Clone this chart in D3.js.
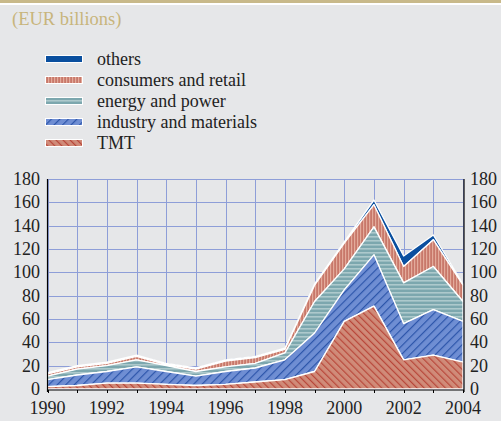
<!DOCTYPE html>
<html>
<head>
<meta charset="utf-8">
<script src="https://cdn.jsdelivr.net/npm/d3@7"></script>
<style>
	body { margin: 0; background: #e6e7e9; }
	svg { display: block; font-family: "Liberation Serif", "DejaVu Serif", serif; }
</style>
</head>
<body>
<svg id="chart" width="501" height="421"></svg>
<script>
var years = [1990, 1991, 1992, 1993, 1994, 1995, 1996, 1997, 1998, 1999, 2000, 2001, 2002, 2003, 2004];
var tmt = [2, 3, 5, 5, 4, 3, 4, 6, 8, 15, 58, 71, 25, 29, 23];
var industry = [6, 9, 10, 14, 11, 8, 11, 12, 17, 33, 27, 44, 31, 39, 35];
var energy = [3, 5, 5, 6, 5, 4, 4, 4, 6, 27, 18, 24, 35, 37, 17];
var consumers = [2, 2, 2, 3, 1, 2, 5, 5, 3, 14, 22, 19, 14, 23, 14];
var others = [1, 1, 1, 1, 1, 1, 1, 1, 1, 1, 1, 4, 9, 4, 1];
var seriesKeys = ["tmt", "industry", "energy", "consumers", "others"];
var legendLabels = ["others", "consumers and retail", "energy and power", "industry and materials", "TMT"];
var legendKeys = ["others", "consumers", "energy", "industry", "tmt"];
var yTicks = [0, 20, 40, 60, 80, 100, 120, 140, 160, 180];
var xLabels = [1990, 1992, 1994, 1996, 1998, 2000, 2002, 2004];

var svg = d3.select("#chart");
var W = 501, H = 421;
var plot = {left: 47.5, right: 463, top: 179, bottom: 389};

// top band
svg.append("rect").attr("x", 0).attr("y", 0).attr("width", W).attr("height", 3).attr("fill", "#c8b98a");
svg.append("rect").attr("x", 0).attr("y", 3).attr("width", W).attr("height", 2).attr("fill", "#ffffff");

svg.append("text").attr("x", 12).attr("y", 25)
	.attr("font-size", 18.5).attr("fill", "#c8b57c")
	.text("(EUR billions)");

// patterns
var defs = svg.append("defs");
function stripes(id, size, bg, fg, angle, width) {
	var p = defs.append("pattern").attr("id", id)
		.attr("patternUnits", "userSpaceOnUse")
		.attr("width", size).attr("height", size)
		.attr("patternTransform", "rotate(" + angle + ")");
	p.append("rect").attr("width", size).attr("height", size).attr("fill", bg);
	p.append("rect").attr("x", 0).attr("y", 0).attr("width", width).attr("height", size).attr("fill", fg);
}
stripes("p-tmt", 5, "#d08b79", "#b8473a", -45, 1.2);
stripes("p-industry", 6, "#6f8ed3", "#2c55aa", 45, 1.2);
stripes("p-energy", 4, "#7ca7ae", "#adc9cc", 90, 1.6);
stripes("p-consumers", 3, "#c8786a", "#e3ab9b", 0, 1.2);

var fills = {
	tmt: "url(#p-tmt)",
	industry: "url(#p-industry)",
	energy: "url(#p-energy)",
	consumers: "url(#p-consumers)",
	others: "#0a4f9f"
};

var x = d3.scaleLinear().domain([1990, 2004]).range([plot.left, plot.right]);
var y = d3.scaleLinear().domain([0, 180]).range([plot.bottom, plot.top]);

// grid
var grid = svg.append("g").attr("stroke", "#8e9ed8").attr("stroke-width", 1);
yTicks.forEach(function (v) {
	grid.append("line").attr("x1", plot.left).attr("x2", plot.right)
		.attr("y1", Math.round(y(v)) + 0.5).attr("y2", Math.round(y(v)) + 0.5);
});
years.forEach(function (v) {
	grid.append("line").attr("y1", plot.top).attr("y2", plot.bottom)
		.attr("x1", Math.round(x(v)) + 0.5).attr("x2", Math.round(x(v)) + 0.5);
});

// stacked areas
var table = years.map(function (yr, i) {
	return {year: yr, tmt: tmt[i], industry: industry[i], energy: energy[i], consumers: consumers[i], others: others[i]};
});
var stack = d3.stack().keys(seriesKeys);
var layers = stack(table);
var area = d3.area()
	.x(function (d) { return x(d.data.year); })
	.y0(function (d) { return y(d[0]); })
	.y1(function (d) { return y(d[1]); });

svg.append("g").selectAll("path")
	.data(layers.slice().reverse())
	.enter().append("path")
	.attr("d", area)
	.attr("fill", function (d) { return fills[d.key]; })
	.attr("stroke", "#ffffff")
	.attr("stroke-width", 1.3)
	.attr("stroke-linejoin", "round");

// axes
var axisG = svg.append("g").attr("font-size", 18).attr("fill", "#222");
axisG.append("line").attr("x1", plot.left).attr("x2", plot.left).attr("y1", plot.top).attr("y2", plot.bottom + 3)
	.attr("stroke", "#000").attr("stroke-width", 1.2);
axisG.append("line").attr("x1", plot.right + 1).attr("x2", plot.right + 1).attr("y1", plot.top).attr("y2", plot.bottom + 3)
	.attr("stroke", "#000").attr("stroke-width", 1.2);
axisG.append("line").attr("x1", plot.left).attr("x2", plot.right + 1).attr("y1", plot.bottom + 1).attr("y2", plot.bottom + 1)
	.attr("stroke", "#000").attr("stroke-width", 1);
years.forEach(function (v) {
	axisG.append("line").attr("x1", Math.round(x(v)) + 0.5).attr("x2", Math.round(x(v)) + 0.5)
		.attr("y1", plot.bottom + 1).attr("y2", plot.bottom + 4)
		.attr("stroke", "#000").attr("stroke-width", 1);
});
yTicks.forEach(function (v) {
	axisG.append("text").attr("x", 40).attr("y", y(v) + 6)
		.attr("text-anchor", "end").text(v);
	axisG.append("text").attr("x", 470).attr("y", y(v) + 6)
		.attr("text-anchor", "start").text(v);
});
xLabels.forEach(function (v) {
	axisG.append("text").attr("x", x(v)).attr("y", 414)
		.attr("text-anchor", "middle").text(v);
});

// legend
var legend = svg.append("g").attr("font-size", 18).attr("fill", "#222");
legendKeys.forEach(function (k, i) {
	var yy = 59 + i * 21;
	legend.append("rect").attr("x", 45).attr("y", yy - 4).attr("width", 38).attr("height", 8)
		.attr("fill", "#ffffff");
	legend.append("rect").attr("x", 46).attr("y", yy - 3).attr("width", 36).attr("height", 6)
		.attr("fill", fills[k]);
	legend.append("text").attr("x", 97).attr("y", yy + 6).text(legendLabels[i]);
});
</script>
</body>
</html>
